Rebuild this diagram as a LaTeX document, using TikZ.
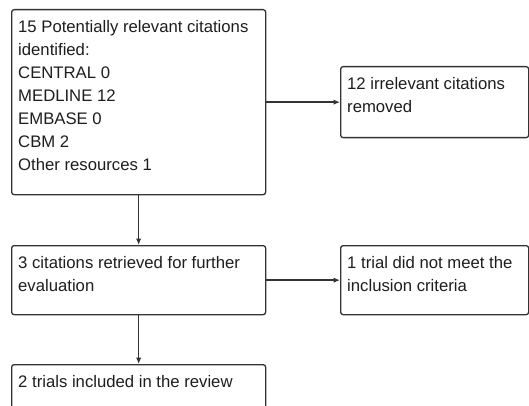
\documentclass[tikz,border=0pt]{standalone}
\usepackage{fontspec}
\setmainfont{Liberation Sans}
\usetikzlibrary{arrows.meta}
\definecolor{edge}{HTML}{333333}
\definecolor{ink}{HTML}{1E1E1E}
\tikzset{
  frame/.style={draw=edge, line width=1.3pt, rounded corners=2.5pt, anchor=north west, inner sep=0pt, fill=white},
  txt/.style={anchor=north west, inner sep=0pt, align=left, text=ink, font=\fontsize{16.7}{23}\selectfont},
  conn/.style={draw=edge, line width=1.5pt, -{Latex[length=6.5pt,width=5.5pt]}}
}
\begin{document}
\begin{tikzpicture}[x=1pt,y=-1pt]
\useasboundingbox (0,0) rectangle (529,406);
\clip (0,0) rectangle (529,406);
\fill[white] (0,0) rectangle (529,406);
% boxes
\node[frame, minimum width=254pt, minimum height=185pt] (b1) at (11,9) {};
\node[frame, minimum width=188pt, minimum height=71pt] (b2) at (340,66) {};
\node[frame, minimum width=254pt, minimum height=69pt] (b3) at (11,245) {};
\node[frame, minimum width=188pt, minimum height=69pt] (b4) at (340,245) {};
\node[frame, minimum width=254pt, minimum height=69pt] (b5) at (11,364) {};
% texts
\node[txt] (t1) at (18,20.5) {15 Potentially relevant citations\\identified:\\CENTRAL 0\\MEDLINE 12\\EMBASE 0\\CBM 2\\Other resources 1};
\node[txt] (t2) at (347,77.5) {12 irrelevant citations\\removed};
\node[txt] (t3) at (18,256.5) {3 citations retrieved for further\\evaluation};
\node[txt] (t4) at (347,256.5) {1 trial did not meet the\\inclusion criteria};
\node[txt] (t5) at (18,375.5) {2 trials included in the review};
% connectors
\draw[conn] (b1.east) -- (b2.west);
\draw[conn] (b1.south) -- (b3.north);
\draw[conn] (b3.east) -- (b4.west);
\draw[conn] (b3.south) -- (b5.north);
\end{tikzpicture}
\end{document}
